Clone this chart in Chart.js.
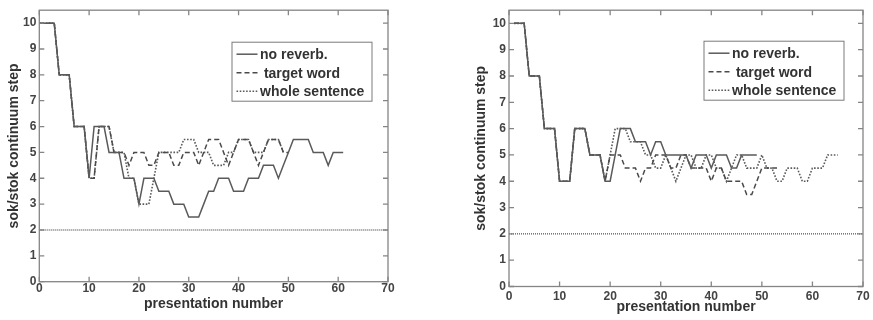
<!DOCTYPE html>
<html>
<head>
<meta charset="utf-8">
<script src="https://cdn.jsdelivr.net/npm/chart.js@4.4.1/dist/chart.umd.min.js"></script>
<style>
html,body{margin:0;padding:0;background:#fff;width:873px;height:320px;overflow:hidden}
.p{position:absolute;top:0}
</style>
</head>
<body>
<div class="p" style="left:0px"><canvas id="c1" width="400" height="320"></canvas></div>
<div class="p" style="left:467px"><canvas id="c2" width="406" height="320"></canvas></div>
<script>
// ---------- data ----------
const seriesNames = ['no reverb.', ' target word', 'whole sentence'];
const xTickLabels = [0, 10, 20, 30, 40, 50, 60, 70];
const yTickLabels = [0, 1, 2, 3, 4, 5, 6, 7, 8, 9, 10];
const xAxisTitle = 'presentation number';
const yAxisTitle = 'sok/stok continuum step';

// reference (chance) line
const refX = [0, 70];
const refLevel = [2, 2];

// left panel: first presentation number
const leftStart = 0;
const leftNoReverb = [10,10,10,10, 8,8,8, 6,6,6, 4, 6,6,6, 5,5,5, 4,4,4, 3, 4,4,4,
  3.5,3.5,3.5, 3,3,3, 2.5,2.5,2.5, 3, 3.5,3.5, 4,4,4, 3.5,3.5,3.5, 4,4,4,
  4.5,4.5,4.5, 4, 4.5, 5, 5.5,5.5,5.5,5.5, 5,5,5, 4.5, 5,5,5];
const leftTarget = [10,10,10,10, 8,8,8, 6,6,6, 4,4, 6,6,6, 5,5,5, 4.5, 5,5,5,
  4.5,4.5, 5,5,5, 4.5,4.5, 5,5,5, 4.5, 5, 5.5,5.5,5.5, 5, 4.5, 5, 5.5,5.5,5.5,
  5, 4.5, 5, 5.5,5.5,5.5, 5, 5];
const leftWhole = [10,10,10,10, 8,8,8, 6,6,6, 4,4, 6,6,6, 5,5,5, 4,4, 3,3,3, 4,
  5,5,5,5,5, 5.5,5.5,5.5, 5,5,5, 4.5,4.5,4.5, 5,5, 5.5,5.5,5.5, 5,5,5,
  5.5,5.5,5.5, 5];

// right panel
const rightStart = 1;
const rightNoReverb = [10,10,10, 8,8,8, 6,6,6, 4,4,4, 6,6,6, 5,5,5, 4,4, 5,
  6,6,6, 5.5,5.5,5.5, 5, 5.5,5.5, 5,5,5,5,5, 4.5, 5,5,5, 4.5, 5,5,5,
  4.5,4.5, 5,5,5,5];
const rightTarget = [10,10,10, 8,8,8, 6,6,6, 4,4,4, 6,6,6, 5,5,5, 4, 5,5,5,
  4.5,4.5,4.5, 4, 4.5,4.5, 5,5,5, 4.5,4.5, 5,5, 4.5,4.5,4.5,4.5, 4,
  4.5,4.5, 4,4,4,4, 3.5,3.5, 4, 4.5,4.5,4.5,4.5];
const rightWhole = [10,10,10, 8,8,8, 6,6,6, 4,4,4, 6,6,6, 5,5,5, 4, 5,
  6,6,6, 5.5,5.5,5.5, 5,5, 4.5,4.5, 5, 4.5, 4, 4.5, 5,5, 4.5,4.5, 5,5,
  4.5,4.5, 4, 4.5, 5,5, 4.5,4.5,4.5, 5, 4.5,4.5, 4,4, 4.5,4.5,4.5, 4,4,
  4.5,4.5,4.5, 5,5,5];

// ---------- drawing ----------
const FONT = "'Liberation Sans', Arial, Helvetica, sans-serif";
function pts(start, arr) { return arr.map((v, i) => ({ x: start + i, y: v })); }

const boxPlugin = {
  id: 'matlabBox',
  afterDraw(chart) {
    const { ctx, chartArea: a, scales: { x, y } } = chart;
    ctx.save();
    ctx.strokeStyle = '#858585';
    ctx.lineWidth = 1.3;
    ctx.setLineDash([]);
    ctx.strokeRect(a.left, a.top, a.right - a.left, a.bottom - a.top);
    const tl = 5;
    ctx.beginPath();
    x.ticks.forEach(t => {
      const px = x.getPixelForValue(t.value);
      ctx.moveTo(px, a.bottom); ctx.lineTo(px, a.bottom - tl);
      ctx.moveTo(px, a.top); ctx.lineTo(px, a.top + tl);
    });
    y.ticks.forEach(t => {
      const py = y.getPixelForValue(t.value);
      ctx.moveTo(a.left, py); ctx.lineTo(a.left + tl, py);
      ctx.moveTo(a.right, py); ctx.lineTo(a.right - tl, py);
    });
    ctx.stroke();

    // legend box inside the axes
    const g = chart.options.plugins.matlabBox;
    const bx = a.right - g.fromRight, by = a.top + g.fromTop, bw = g.w, bh = g.h;
    ctx.fillStyle = '#fff';
    ctx.fillRect(bx, by, bw, bh);
    ctx.strokeStyle = '#7a7a7a';
    ctx.lineWidth = 1;
    ctx.strokeRect(bx, by, bw, bh);
    const rows = [12, 30.5, 49];
    ctx.font = 'bold 14px ' + FONT;
    ctx.textBaseline = 'middle';
    ctx.textAlign = 'left';
    for (let i = 0; i < 3; i++) {
      const ds = chart.data.datasets[i];
      const yy = by + rows[i];
      ctx.beginPath();
      ctx.strokeStyle = ds.borderColor;
      ctx.lineWidth = ds.borderWidth;
      ctx.setLineDash(ds.borderDash);
      ctx.moveTo(bx + 4.5, yy); ctx.lineTo(bx + 25.5, yy);
      ctx.stroke();
      ctx.setLineDash([]);
      ctx.fillStyle = '#333';
      ctx.fillText(ds.label, bx + 28, yy + 1);
    }
    ctx.restore();
  }
};

function makeChart(id, start, noRev, target, whole, g) {
  const tickFont = { family: FONT, size: 12, weight: 'bold' };
  const titleFont = { family: FONT, size: 14, weight: 'bold' };
  return new Chart(document.getElementById(id), {
    type: 'line',
    data: {
      datasets: [
        { label: seriesNames[0], data: pts(start, noRev), borderColor: '#5a5a5a', borderWidth: 1.5, borderDash: [] },
        { label: seriesNames[1], data: pts(start, target), borderColor: '#4a4a4a', borderWidth: 1.5, borderDash: [5, 3] },
        { label: seriesNames[2], data: pts(start, whole), borderColor: '#5a5a5a', borderWidth: 1.6, borderDash: [1.6, 1.6] },
        { label: 'ref', data: refX.map((v, i) => ({ x: v, y: refLevel[i] })), borderColor: '#3c3c3c', borderWidth: 1.1, borderDash: [1, 1] }
      ]
    },
    options: {
      responsive: false,
      animation: false,
      devicePixelRatio: 1,
      layout: { padding: { left: 0, right: g.padRight, top: 6, bottom: 0 } },
      elements: { point: { radius: 0 }, line: { tension: 0, borderCapStyle: 'butt' } },
      plugins: {
        legend: { display: false },
        tooltip: { enabled: false },
        matlabBox: { fromRight: g.legRight, fromTop: g.legTop, w: 140, h: 59 }
      },
      scales: {
        x: {
          type: 'linear', min: 0, max: 70,
          afterBuildTicks: s => { s.ticks = xTickLabels.map(v => ({ value: v })); },
          afterFit: s => { s.height = g.xH; },
          grid: { display: false, drawTicks: false },
          border: { display: false },
          ticks: { padding: g.xPad, color: '#444', font: tickFont, maxRotation: 0, autoSkip: false },
          title: { display: true, text: xAxisTitle, color: '#333', font: titleFont, padding: { top: 0, bottom: g.xtPad } }
        },
        y: {
          type: 'linear', min: 0, max: 10.5,
          afterBuildTicks: s => { s.ticks = yTickLabels.map(v => ({ value: v })); },
          afterFit: s => { s.width = g.yW; },
          grid: { display: false, drawTicks: false },
          border: { display: false },
          ticks: { padding: 3, color: '#444', font: tickFont, autoSkip: false },
          title: { display: true, text: yAxisTitle, color: '#333', font: titleFont, padding: { top: 6.2, bottom: 0 } }
        }
      }
    },
    plugins: [boxPlugin]
  });
}

makeChart('c1', leftStart, leftNoReverb, leftTarget, leftWhole,
  { padRight: 12, yW: 39.3, xH: 38.3, xPad: 0, xtPad: 7.6, legRight: 156, legTop: 32 });
makeChart('c2', rightStart, rightNoReverb, rightTarget, rightWhole,
  { padRight: 10, yW: 42, xH: 33.5, xPad: 3, xtPad: 4.9, legRight: 159, legTop: 31 });
</script>
</body>
</html>
